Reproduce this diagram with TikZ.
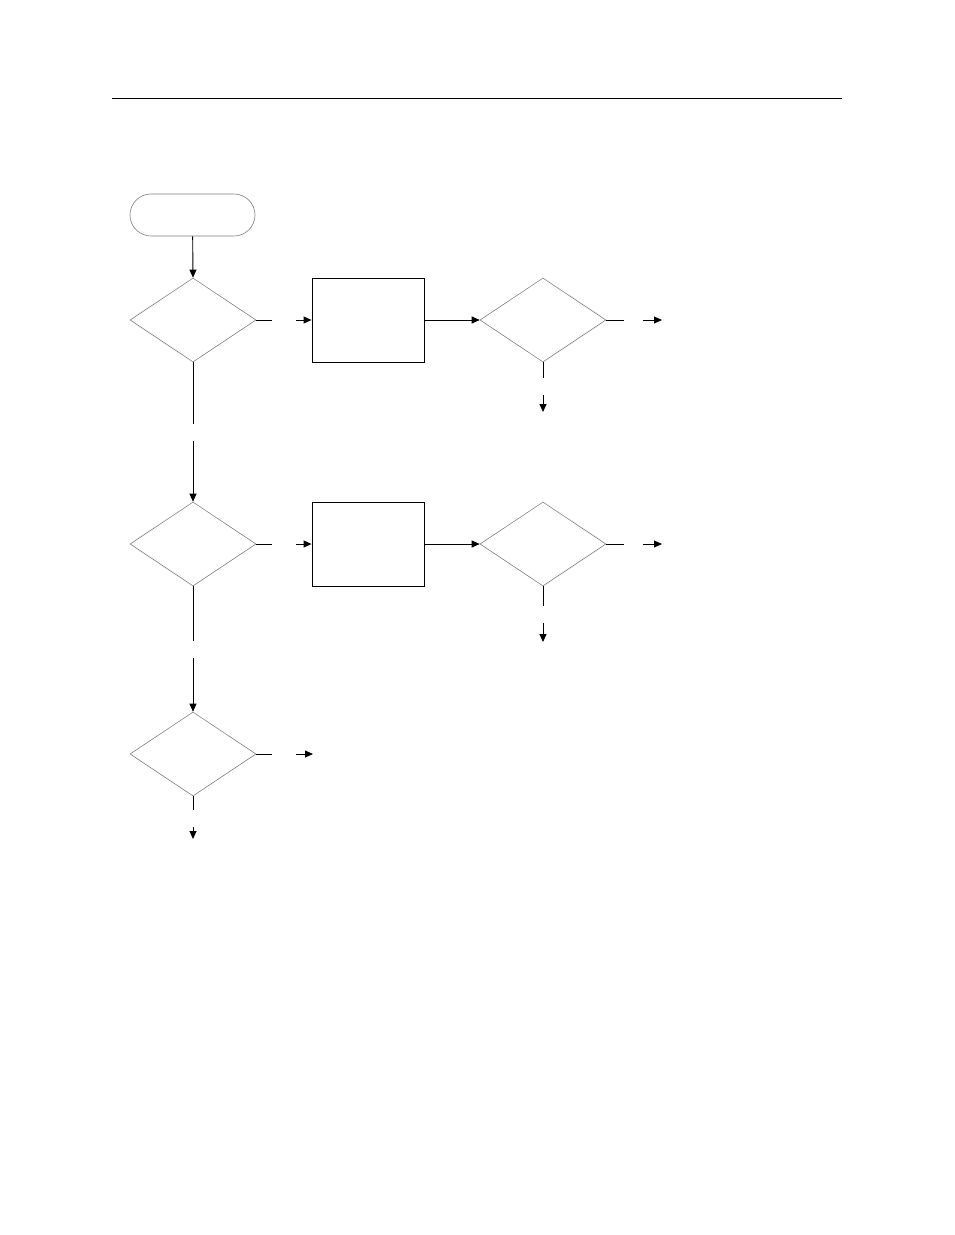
\documentclass[tikz,border=0pt]{standalone}
\usetikzlibrary{shapes.geometric,arrows.meta}
\begin{document}
\begin{tikzpicture}[x=1pt,y=-1pt,
    line width=0.9pt,
    >={Triangle[length=8pt,width=7pt]},
    decide/.style={diamond,draw=gray,line width=0.6pt,inner sep=0pt,
      minimum width=126pt,minimum height=84pt,aspect=1.5},
    work/.style={rectangle,draw,line width=0.9pt,inner sep=0pt,
      minimum width=112pt,minimum height=84pt}]

      \useasboundingbox (0,0) rectangle (954,1235);
      \draw (112,98) -- (842,98);

      \node[draw=gray,line width=0.6pt,rounded corners=21pt,
        minimum width=125pt,minimum height=42pt] (start) at (192.5,215) {};

      \begin{scope}[every node/.style={decide}]
        \node (d1) at (193,320) {};
        \node (d2) at (543,320) {};
        \node (d3) at (193,544) {};
        \node (d4) at (543,544) {};
        \node (d5) at (193,754) {};
      \end{scope}

      \begin{scope}[every node/.style={work}]
        \node (b1) at (368,320) {};
        \node (b2) at (368,544) {};
      \end{scope}

      % loose ends
      \coordinate (d1e)  at (272,320);
      \coordinate (d1e') at (296,320);
      \coordinate (d1s)  at (193,424);
      \coordinate (d1s') at (193,441);
      \coordinate (d2e)  at (624,320);
      \coordinate (d2e') at (643,320);
      \coordinate (d2x)  at (662,320);
      \coordinate (d2s)  at (543,378);
      \coordinate (d2s') at (543,395);
      \coordinate (d2y)  at (543,412);
      \coordinate (d3e)  at (272,544);
      \coordinate (d3e') at (296,544);
      \coordinate (d3s)  at (193,641);
      \coordinate (d3s') at (193,658);
      \coordinate (d4e)  at (624,544);
      \coordinate (d4e') at (643,544);
      \coordinate (d4x)  at (662,544);
      \coordinate (d4s)  at (543,606);
      \coordinate (d4s') at (543,623);
      \coordinate (d4y)  at (543,642);
      \coordinate (d5e)  at (272,754);
      \coordinate (d5e') at (296,754);
      \coordinate (d5x)  at (313,754);
      \coordinate (d5s)  at (193,810);
      \coordinate (d5s') at (193,827);
      \coordinate (d5y)  at (193,839);

      \draw[->] (start) -- (d1.north);

      \draw (d1.east) -- (d1e);
      \draw[->] (d1e') -- (b1.west);
      \draw[->] (b1.east) -- (d2.west);
      \draw (d2.east) -- (d2e);
      \draw[->] (d2e') -- (d2x);
      \draw (d2.south) -- (d2s);
      \draw[->] (d2s') -- (d2y);
      \draw (d1.south) -- (d1s);
      \draw[->] (d1s') -- (d3.north);

      \draw (d3.east) -- (d3e);
      \draw[->] (d3e') -- (b2.west);
      \draw[->] (b2.east) -- (d4.west);
      \draw (d4.east) -- (d4e);
      \draw[->] (d4e') -- (d4x);
      \draw (d4.south) -- (d4s);
      \draw[->] (d4s') -- (d4y);
      \draw (d3.south) -- (d3s);
      \draw[->] (d3s') -- (d5.north);

      \draw (d5.east) -- (d5e);
      \draw[->] (d5e') -- (d5x);
      \draw (d5.south) -- (d5s);
      \draw[->] (d5s') -- (d5y);

    \end{tikzpicture}
\end{document}
